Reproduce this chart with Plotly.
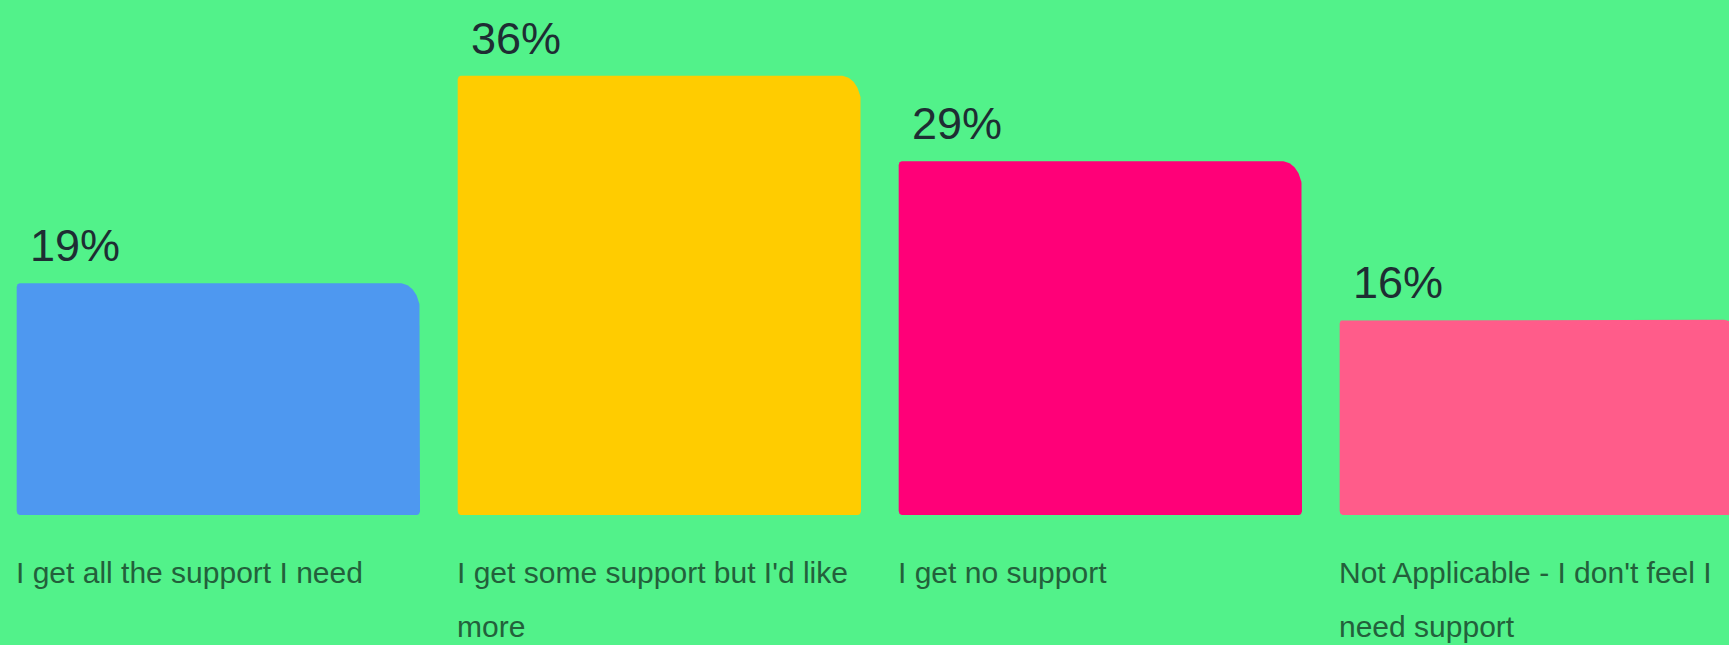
import textwrap
import numpy as np
import plotly.graph_objects as go

# Survey answers and their shares (%)
categories = [
    "I get all the support I need",
    "I get some support but I'd like more",
    "I get no support",
    "Not Applicable - I don't feel I need support",
]
values = [19, 36, 29, 16]
value_labels = ["19%", "36%", "29%", "16%"]
colors = ["#4E98F0", "#FFCC00", "#FF0078", "#FF5C8A"]

BG = "#52F28A"
W, H = 1729, 645
PX_PER_UNIT_X = 441.0      # horizontal pixels per category slot
PX_PER_PCT = 12.2          # vertical pixels per percentage point
BASE_PX = 515.0            # pixel row of the zero line
HALF_W = 0.4573            # half bar width in category units
X_LO = -218.35 / PX_PER_UNIT_X
X_RANGE = [X_LO, X_LO + W / PX_PER_UNIT_X]
Y_RANGE = [-(H - BASE_PX) / PX_PER_PCT, BASE_PX / PX_PER_PCT]


def arc(cx, cy, rx, ry, a0, a1, n=14):
    t = np.linspace(a0, a1, n)
    return list(cx + rx * np.cos(t)), list(cy + ry * np.sin(t))


def rounded_bar(center, value, big=(20, 28), small=(3, 4)):
    """Outline of a bar with a large top-right radius and small other radii (px)."""
    x0, x1 = center - HALF_W, center + HALF_W
    y0, y1 = 0.0, float(value)
    bx, by = big[0] / PX_PER_UNIT_X, big[1] / PX_PER_PCT
    sx, sy = small[0] / PX_PER_UNIT_X, small[1] / PX_PER_PCT
    xs, ys = [], []
    # bottom-left
    ax, ay = arc(x0 + sx, y0 + sy, sx, sy, np.pi, 1.5 * np.pi)
    xs += ax; ys += ay
    # bottom-right
    ax, ay = arc(x1 - sx, y0 + sy, sx, sy, 1.5 * np.pi, 2 * np.pi)
    xs += ax; ys += ay
    # top-right (large)
    ax, ay = arc(x1 - bx, y1 - by, bx, by, 0, 0.5 * np.pi, 28)
    xs += ax; ys += ay
    # top-left
    ax, ay = arc(x0 + sx, y1 - sy, sx, sy, 0.5 * np.pi, np.pi)
    xs += ax; ys += ay
    xs.append(xs[0]); ys.append(ys[0])
    return xs, ys


fig = go.Figure()
for i, (v, c) in enumerate(zip(values, colors)):
    xs, ys = rounded_bar(i, v)
    fig.add_trace(go.Scatter(
        x=xs, y=ys, mode="lines", fill="toself", fillcolor=c,
        line=dict(width=0, color=c), hoverinfo="skip", showlegend=False,
    ))

annotations = []
for i, (v, lab) in enumerate(zip(values, value_labels)):
    annotations.append(dict(
        x=i - HALF_W, y=v, xref="x", yref="y", text=lab, showarrow=False,
        xanchor="left", yanchor="bottom", xshift=11, yshift=10,
        font=dict(family="Liberation Sans, Arial", size=45, color="#1E2D33"),
    ))
    for j, line in enumerate(textwrap.wrap(categories[i], width=31)):
        annotations.append(dict(
            x=i - HALF_W, y=1 - (572 + 54 * j) / H, xref="x", yref="paper",
            text=line, showarrow=False, xanchor="left", yanchor="middle",
            xshift=-3,
            font=dict(family="Liberation Sans, Arial", size=30, color="#23603B"),
        ))

fig.update_layout(
    width=W, height=H,
    margin=dict(l=0, r=0, t=0, b=0),
    paper_bgcolor=BG, plot_bgcolor=BG,
    showlegend=False,
    xaxis=dict(range=X_RANGE, visible=False, fixedrange=True),
    yaxis=dict(range=Y_RANGE, visible=False, fixedrange=True),
    annotations=annotations,
)

fig.write_html("out.html")
